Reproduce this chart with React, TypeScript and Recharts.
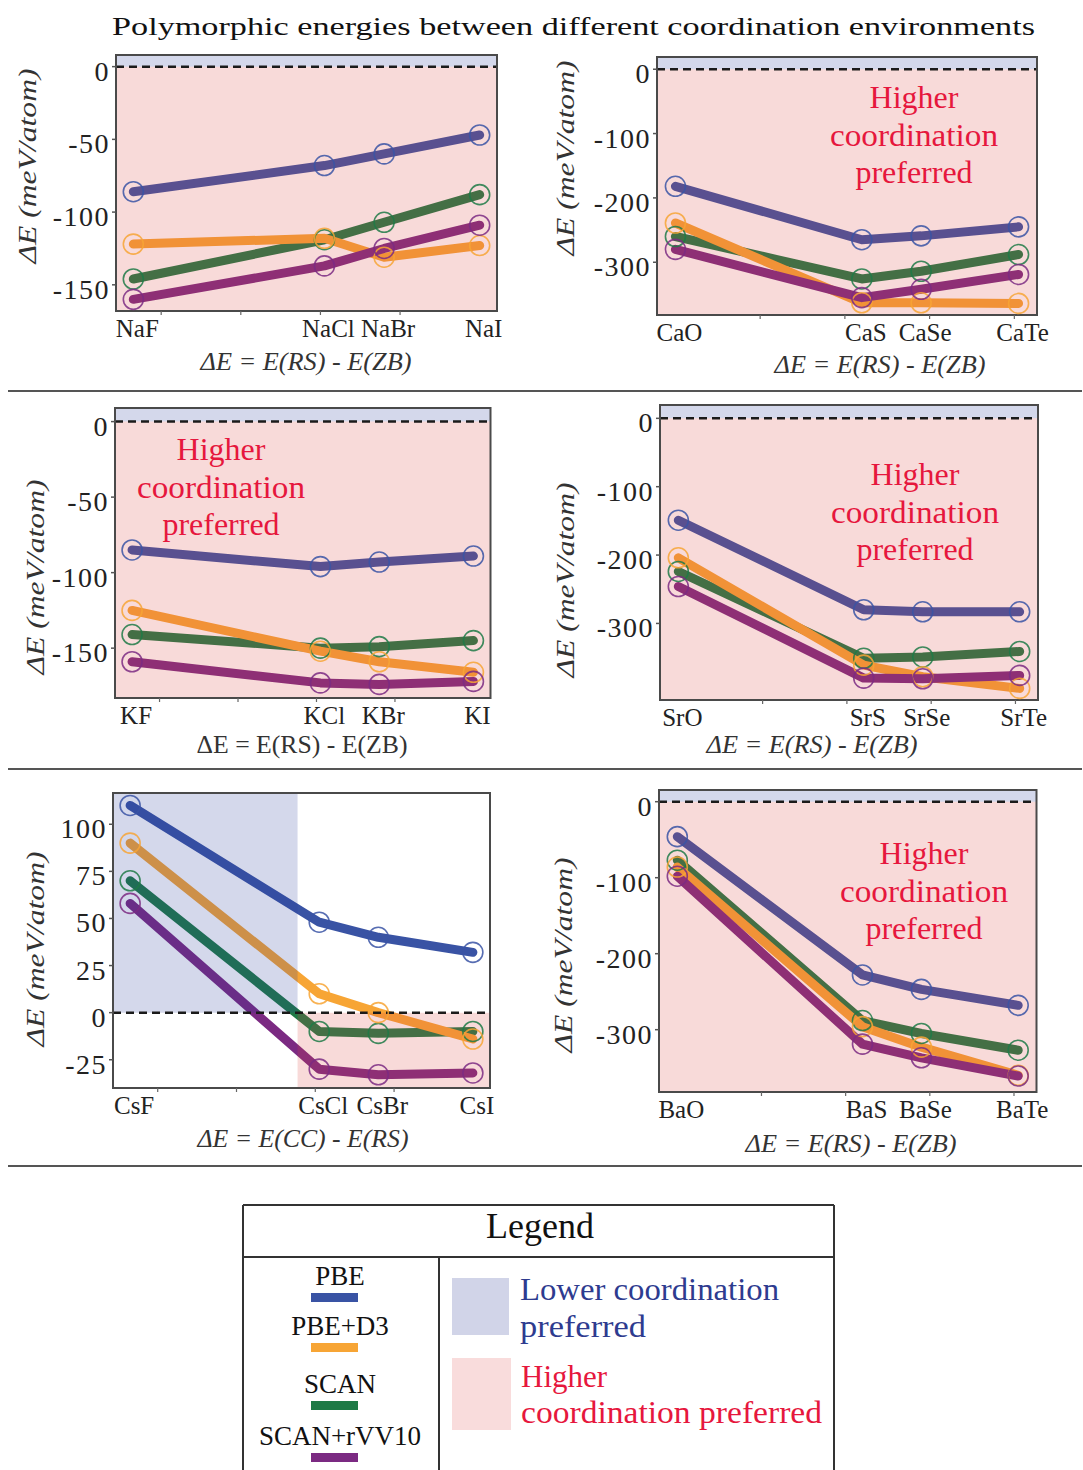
import React from "react";
import { LineChart, Line, XAxis, YAxis, ReferenceArea, ReferenceLine } from "recharts";

const FONT = "'Liberation Serif', 'DejaVu Serif', serif";

// x position of each compound = anion radius (Å)
const halideRadius = [1.33, 1.81, 1.96, 2.2];
const chalcRadius = [1.4, 1.84, 1.98, 2.21];
const minorTicks = [1.4, 1.6, 1.8, 2.0, 2.2];

const naNames = ["NaF", "NaCl", "NaBr", "NaI"];
const naPBE = [-86, -68, -60, -47];
const naD3 = [-122, -118, -131, -123];
const naSCAN = [-146, -119, -107, -88];
const naRVV10 = [-160, -137, -125, -109];

const caNames = ["CaO", "CaS", "CaSe", "CaTe"];
const caPBE = [-182, -265, -259, -245];
const caD3 = [-239, -363, -363, -364];
const caSCAN = [-260, -326, -314, -288];
const caRVV10 = [-280, -355, -342, -319];

const kNames = ["KF", "KCl", "KBr", "KI"];
const kPBE = [-85, -96, -93, -89];
const kD3 = [-125, -152, -159, -166];
const kSCAN = [-141, -150, -149, -145];
const kRVV10 = [-159, -173, -174, -172];

const srNames = ["SrO", "SrS", "SrSe", "SrTe"];
const srPBE = [-149, -280, -283, -283];
const srD3 = [-204, -361, -378, -395];
const srSCAN = [-224, -351, -349, -341];
const srRVV10 = [-246, -380, -381, -376];

const csNames = ["CsF", "CsCl", "CsBr", "CsI"];
const csPBE = [110, 48, 40, 32];
const csD3 = [90, 10, 0, -14];
const csSCAN = [70, -10, -11, -10];
const csRVV10 = [58, -30, -33, -32];

const baNames = ["BaO", "BaS", "BaSe", "BaTe"];
const baPBE = [-46, -228, -247, -268];
const baD3 = [-86, -296, -323, -360];
const baSCAN = [-77, -288, -305, -327];
const baRVV10 = [-98, -319, -337, -361];

const methods = [
  { key: "pbe", name: "PBE", color: "#3953a4" },
  { key: "scan", name: "SCAN", color: "#1e7a46" },
  { key: "d3", name: "PBE+D3", color: "#f7a535" },
  { key: "rvv10", name: "SCAN+rVV10", color: "#7b2a82" },
];
const legendOrder = ["pbe", "d3", "scan", "rvv10"];

const PINK = "#dc4641";
const BLUE = "#2a3c9c";
const pad = 0.0435;
const csSplit = 1.755;

const panels = [
  { left: 115.5, top: 55, w: 381, h: 256, names: naNames, xs: halideRadius,
    s: { pbe: naPBE, d3: naD3, scan: naSCAN, rvv10: naRVV10 },
    yDomain: [-168, 8], yTicks: [0, -50, -100, -150],
    yTitle: [27, 166], xTitle: [306, 370], italic: true, xLabel: "ΔE = E(RS) - E(ZB)" },
  { left: 656.5, top: 57, w: 380, h: 258, names: caNames, xs: chalcRadius,
    s: { pbe: caPBE, d3: caD3, scan: caSCAN, rvv10: caRVV10 },
    yDomain: [-382, 19], yTicks: [0, -100, -200, -300],
    yTitle: [565, 158], xTitle: [880, 373], italic: true, xLabel: "ΔE = E(RS) - E(ZB)",
    note: [914, 108] },
  { left: 114.5, top: 408, w: 375.5, h: 290, names: kNames, xs: halideRadius,
    s: { pbe: kPBE, d3: kD3, scan: kSCAN, rvv10: kRVV10 },
    yDomain: [-183, 9], yTicks: [0, -50, -100, -150],
    yTitle: [35, 577], xTitle: [302, 753], italic: false, xLabel: "ΔE = E(RS) - E(ZB)",
    note: [221, 460] },
  { left: 660, top: 405, w: 378, h: 295, names: srNames, xs: chalcRadius,
    s: { pbe: srPBE, d3: srD3, scan: srSCAN, rvv10: srRVV10 },
    yDomain: [-412, 19.5], yTicks: [0, -100, -200, -300],
    yTitle: [565, 580], xTitle: [812, 753], italic: true, xLabel: "ΔE = E(RS) - E(ZB)",
    note: [915, 485] },
  { left: 113, top: 793, w: 377, h: 295, names: csNames, xs: halideRadius,
    s: { pbe: csPBE, d3: csD3, scan: csSCAN, rvv10: csRVV10 },
    yDomain: [-40, 116.6], yTicks: [100, 75, 50, 25, 0, -25],
    yTitle: [35, 949], xTitle: [303, 1147], italic: true, xLabel: "ΔE = E(CC) - E(RS)", cs: true },
  { left: 659, top: 790, w: 377.5, h: 302, names: baNames, xs: chalcRadius,
    s: { pbe: baPBE, d3: baD3, scan: baSCAN, rvv10: baRVV10 },
    yDomain: [-382, 15.4], yTicks: [0, -100, -200, -300],
    yTitle: [563, 955], xTitle: [851, 1152], italic: true, xLabel: "ΔE = E(RS) - E(ZB)",
    note: [924, 864] },
];

function Panel({ p }: { p: any }) {
  const ML = 110, MT = 5, MR = 30, XH = 50;
  const xd = [p.xs[0] - pad, p.xs[3] + pad];
  const [y0, y1] = p.yDomain;
  const rows = p.names.map((n: string, i: number) => ({
    x: p.xs[i], name: n,
    pbe: p.s.pbe[i], d3: p.s.d3[i], scan: p.s.scan[i], rvv10: p.s.rvv10[i],
  }));
  const minor = minorTicks.filter((v) => !p.xs.includes(v));

  const xTick = (t: any) => {
    const i = p.xs.indexOf(t.payload.value);
    if (i < 0)
      return <line x1={t.x} x2={t.x} y1={t.y - 8} y2={t.y - 4} stroke="#666" strokeWidth={1.2} />;
    return (
      <text x={t.x + 4} y={t.y + 18} textAnchor="middle" fontFamily={FONT} fontSize={25} fill="#222">
        {p.names[i]}
      </text>
    );
  };
  const yTick = (t: any) => (
    <text x={t.x} y={t.y + 14} textAnchor="end" fontFamily={FONT} fontSize={28} letterSpacing={1.5} fill="#222">
      {t.payload.value}
    </text>
  );

  return (
    <div style={{ position: "absolute", left: p.left - ML, top: p.top - MT, zIndex: 1 }}>
      <LineChart width={ML + p.w + MR} height={MT + p.h + XH} data={rows}
        margin={{ top: MT, right: MR, bottom: 0, left: 0 }}>
        <XAxis type="number" dataKey="x" domain={xd} ticks={[...p.xs, ...minor]} interval={0}
          allowDataOverflow height={XH} axisLine={false} tickLine={false} tickSize={6} tickMargin={2}
          tick={xTick} />
        <YAxis type="number" domain={p.yDomain} ticks={p.yTicks} interval={0} allowDataOverflow
          width={ML} axisLine={false} tickLine={{ stroke: "#555", strokeWidth: 1.5 }} tickSize={4}
          tickMargin={2} tick={yTick} />
        {methods.map((m) => (
          <Line key={m.key} dataKey={m.key} stroke={m.color} strokeWidth={9} strokeLinejoin="round"
            strokeLinecap="round" isAnimationActive={false}
            dot={{ r: 10, fill: "none", stroke: m.color, strokeWidth: 1.6, strokeOpacity: 0.85 }}
            activeDot={false} />
        ))}
        {p.cs ? (
          <ReferenceArea x1={xd[0]} x2={csSplit} y1={0} y2={y1} fill={BLUE} fillOpacity={0.2}
            stroke="none" zIndex={450} />
        ) : (
          <ReferenceArea x1={xd[0]} x2={xd[1]} y1={0} y2={y1} fill={BLUE} fillOpacity={0.2}
            stroke="none" zIndex={450} />
        )}
        {p.cs ? (
          <ReferenceArea x1={csSplit} x2={xd[1]} y1={y0} y2={0} fill={PINK} fillOpacity={0.2}
            stroke="none" zIndex={450} />
        ) : (
          <ReferenceArea x1={xd[0]} x2={xd[1]} y1={y0} y2={0} fill={PINK} fillOpacity={0.2}
            stroke="none" zIndex={450} />
        )}
        <ReferenceLine y={0} stroke="#1a1a1a" strokeWidth={2.5} strokeDasharray="8 5" zIndex={460} />
        <ReferenceArea x1={xd[0]} x2={xd[1]} y1={y0} y2={y1} fill="none" stroke="#4a4a4a"
          strokeWidth={2} zIndex={470} />
      </LineChart>
    </div>
  );
}

export default function App() {
  const red = "#e6173d";
  const navy = "#2e3b8f";
  return (
    <div style={{ position: "absolute", left: 0, top: 0, width: 1083, height: 1470, background: "#fff", overflow: "hidden" }}>
      {panels.map((p, i) => <Panel key={i} p={p} />)}
      <svg width={1083} height={1470} style={{ position: "absolute", left: 0, top: 0, zIndex: 2, pointerEvents: "none" }}
        fontFamily={FONT}>
        <text x={573.5} y={35} textAnchor="middle" fontSize={26} textLength={923} lengthAdjust="spacingAndGlyphs" fill="#111">
          Polymorphic energies between different coordination environments
        </text>
        {[391, 769, 1166].map((y) => (
          <line key={y} x1={8} x2={1082} y1={y} y2={y} stroke="#555" strokeWidth={2} />
        ))}
        {panels.map((p: any, i) => (
          <g key={i}>
            <text transform={`translate(${p.yTitle[0]},${p.yTitle[1]}) rotate(-90)`} textAnchor="middle"
              dominantBaseline="central" fontStyle="italic" fontSize={25} textLength={195}
              lengthAdjust="spacingAndGlyphs" fill="#333">
              ΔE (meV/atom)
            </text>
            <text x={p.xTitle[0]} y={p.xTitle[1]} textAnchor="middle" fontStyle={p.italic ? "italic" : "normal"}
              fontSize={25} textLength={211} lengthAdjust="spacingAndGlyphs" fill="#333">
              {p.xLabel}
            </text>
            {p.note && (
              <text textAnchor="middle" fontSize={32} fill={red}>
                <tspan x={p.note[0]} y={p.note[1]}>Higher</tspan>
                <tspan x={p.note[0]} y={p.note[1] + 38} textLength={168} lengthAdjust="spacingAndGlyphs">coordination</tspan>
                <tspan x={p.note[0]} y={p.note[1] + 75}>preferred</tspan>
              </text>
            )}
          </g>
        ))}
        {/* legend */}
        <g stroke="#333" strokeWidth={2}>
          <line x1={243} x2={834} y1={1205} y2={1205} />
          <line x1={243} x2={243} y1={1205} y2={1470} />
          <line x1={834} x2={834} y1={1205} y2={1470} />
          <line x1={243} x2={834} y1={1257} y2={1257} />
          <line x1={439} x2={439} y1={1257} y2={1470} />
        </g>
        <text x={540} y={1238} textAnchor="middle" fontSize={36} fill="#111">Legend</text>
        {legendOrder.map((k, i) => {
          const m = methods.find((mm) => mm.key === k)!;
          const base = [1285, 1335, 1393, 1445][i];
          return (
            <g key={k}>
              <text x={340} y={base} textAnchor="middle" fontSize={27} fill="#111">{m.name}</text>
              <rect x={311} y={base + 8} width={47} height={9} fill={m.color} />
            </g>
          );
        })}
        <rect x={452} y={1278} width={57} height={57} fill="#d1d4e8" />
        <rect x={452} y={1358} width={59} height={72} fill="#f9dcdc" />
        <text fontSize={31} fill={navy}>
          <tspan x={520} y={1300} textLength={259} lengthAdjust="spacingAndGlyphs">Lower coordination</tspan>
          <tspan x={520} y={1337} textLength={126} lengthAdjust="spacingAndGlyphs">preferred</tspan>
        </text>
        <text fontSize={31} fill={red}>
          <tspan x={521} y={1387}>Higher</tspan>
          <tspan x={521} y={1423} textLength={301} lengthAdjust="spacingAndGlyphs">coordination preferred</tspan>
        </text>
      </svg>
    </div>
  );
}
